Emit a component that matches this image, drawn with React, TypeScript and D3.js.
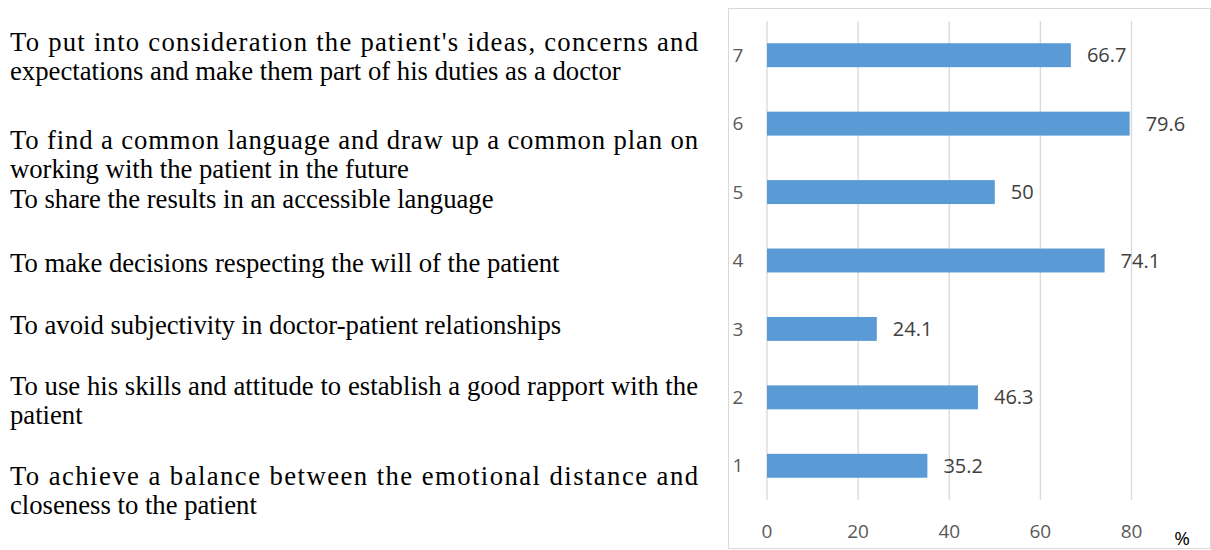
import React, { useEffect, useRef } from "react";
import * as d3 from "d3";

// chart data
const categories = ["1", "2", "3", "4", "5", "6", "7"];
const values = [35.2, 46.3, 24.1, 74.1, 50, 79.6, 66.7];
const xTicks = [0, 20, 40, 60, 80];
const unitLabel = "%";

// left-hand description paragraphs (top to bottom), lines as in the reference
const paragraphs: string[][] = [
  [
    "To put into consideration the patient's ideas, concerns and",
    "expectations and make them part of his duties as a doctor",
  ],
  [
    "To find a common language and draw up a common plan on",
    "working with the patient in the future",
    "To share the results in an accessible language",
  ],
  ["To make decisions respecting the will of the patient"],
  ["To avoid subjectivity in doctor-patient relationships"],
  [
    "To use his skills and attitude to establish a good rapport with the",
    "patient",
  ],
  [
    "To achieve a balance between the emotional distance and",
    "closeness to the patient",
  ],
];
// paragraph first-line baselines
const paragraphTops = [51, 149, 272, 334, 395, 485];

const W = 1211;
const H = 550;

const App = () => {
  const svgRef = useRef<SVGSVGElement>(null);

  useEffect(() => {
    const svg = d3.select(svgRef.current);
    svg.selectAll("*").remove();

    svg.append("rect").attr("width", W).attr("height", H).attr("fill", "#fff");

    // ---- left text block ----
    const textG = svg
      .append("g")
      .attr("font-family", "'Liberation Serif', 'Times New Roman', serif")
      .attr("font-size", 26.7)
      .attr("fill", "#000");
    const colLeft = 10;
    const colWidth = 688;
    const lineH = 29.3;
    paragraphs.forEach((lines, pi) => {
      lines.forEach((line, li) => {
        // only the first line of a wrapped paragraph is justified
        const justify = li === 0 && lines.length > 1;
        const t = textG
          .append("text")
          .attr("x", colLeft)
          .attr("y", paragraphTops[pi] + li * lineH)
          .text(line);
        if (justify) {
          t.attr("textLength", colWidth).attr("lengthAdjust", "spacing");
        }
      });
    });

    // ---- chart ----
    const frame = { x: 728.5, y: 8.5, w: 482, h: 540 };
    svg
      .append("rect")
      .attr("x", frame.x)
      .attr("y", frame.y)
      .attr("width", frame.w)
      .attr("height", frame.h)
      .attr("fill", "none")
      .attr("stroke", "#d9d9d9");

    const plot = { left: 767, right: 1131.5, top: 21, bottom: 500 };

    const x = d3
      .scaleLinear()
      .domain([0, 80])
      .range([plot.left, plot.right]);

    const y = d3
      .scaleBand()
      .domain(categories)
      .range([plot.bottom, plot.top])
      .padding(0);

    const chart = svg.append("g");

    // grid lines
    chart
      .append("g")
      .selectAll("line")
      .data(xTicks)
      .enter()
      .append("line")
      .attr("x1", (d) => x(d))
      .attr("x2", (d) => x(d))
      .attr("y1", plot.top)
      .attr("y2", plot.bottom)
      .attr("stroke", "#d9d9d9")
      .attr("stroke-width", 1.3);

    const barH = y.bandwidth() * 0.35;
    const data = categories.map((c, i) => ({ label: c, value: values[i] }));

    chart
      .append("g")
      .selectAll("rect")
      .data(data)
      .enter()
      .append("rect")
      .attr("x", x(0))
      .attr("y", (d) => y(d.label)! + (y.bandwidth() - barH) / 2)
      .attr("width", (d) => x(d.value) - x(0))
      .attr("height", barH)
      .attr("fill", "#5b9bd5");

    const labelFont = "'Open Sans', 'DejaVu Sans', sans-serif";

    // value labels
    chart
      .append("g")
      .selectAll("text")
      .data(data)
      .enter()
      .append("text")
      .attr("x", (d) => x(d.value) + 16)
      .attr("y", (d) => y(d.label)! + y.bandwidth() / 2)
      .attr("dy", "0.35em")
      .attr("font-family", labelFont)
      .attr("font-size", 20)
      .attr("fill", "#404040")
      .text((d) => String(d.value));

    // category labels
    chart
      .append("g")
      .selectAll("text")
      .data(categories)
      .enter()
      .append("text")
      .attr("x", 738)
      .attr("y", (d) => y(d)! + y.bandwidth() / 2)
      .attr("dy", "0.35em")
      .attr("text-anchor", "middle")
      .attr("font-family", labelFont)
      .attr("font-size", 19)
      .attr("fill", "#595959")
      .text((d) => d);

    // x tick labels
    chart
      .append("g")
      .selectAll("text")
      .data(xTicks)
      .enter()
      .append("text")
      .attr("x", (d) => x(d))
      .attr("y", 531)
      .attr("dy", "0.35em")
      .attr("text-anchor", "middle")
      .attr("font-family", labelFont)
      .attr("font-size", 19)
      .attr("fill", "#595959")
      .text((d) => String(d));

    // unit label
    svg
      .append("text")
      .attr("x", 1182)
      .attr("y", 538)
      .attr("dy", "0.35em")
      .attr("text-anchor", "middle")
      .attr("font-family", labelFont)
      .attr("font-size", 19)
      .attr("fill", "#000")
      .text(unitLabel);
  }, []);

  return (
    <svg
      ref={svgRef}
      width={W}
      height={H}
      style={{ display: "block", position: "absolute", left: 0, top: 0 }}
    ></svg>
  );
};

export default App;
